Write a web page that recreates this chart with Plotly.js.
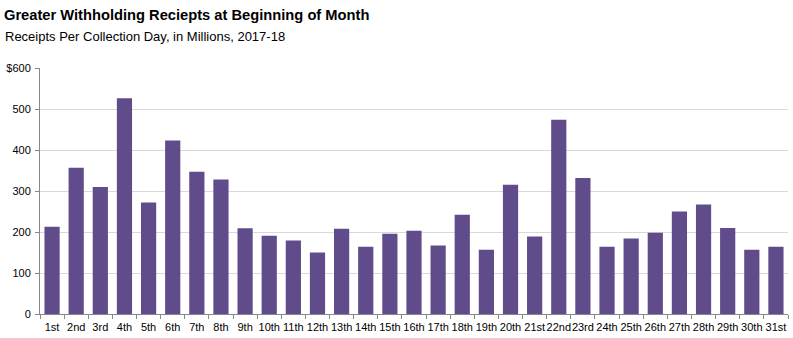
<!DOCTYPE html>
<html>
<head>
<meta charset="utf-8">
<script src="https://cdn.plot.ly/plotly-3.0.1.min.js"></script>
<style>html,body{margin:0;padding:0;background:#fff;}#chart{width:793px;height:338px;}</style>
</head>
<body>
<div id="chart"></div>
<script>
const days = ["1st","2nd","3rd","4th","5th","6th","7th","8th","9th","10th","11th","12th","13th","14th","15th","16th","17th","18th","19th","20th","21st","22nd","23rd","24th","25th","26th","27th","28th","29th","30th","31st"];
const receipts = [213,357,310,526,272,423,347,328,209,191,179,150,208,164,196,203,167,242,157,315,189,474,332,164,184,198,250,267,210,157,164];
const yTickVals = [0,100,200,300,400,500,600];
const yTickText = ["0","100","200","300","400","500","$600"];
const titleText = "Greater Withholding Reciepts at Beginning of Month";
const subtitleText = "Receipts Per Collection Day, in Millions, 2017-18";

const font = "Liberation Sans, Arial, sans-serif";
Plotly.newPlot("chart", [{
  type: "bar",
  x: days,
  y: receipts,
  marker: {color: "#604c8b"},
  hoverinfo: "x+y"
}], {
  width: 793, height: 338,
  margin: {l: 40, r: 5, t: 68, b: 24},
  paper_bgcolor: "#fff", plot_bgcolor: "#fff",
  bargap: 0.37,
  font: {family: font, size: 11, color: "#000"},
  title: {text: "<b>" + titleText + "</b>", x: 0.005, xanchor: "left", xref: "container",
          y: 0.955, yanchor: "middle", yref: "container", font: {family: font, size: 14.7, color: "#000"}},
  annotations: [{text: subtitleText, xref: "paper", yref: "paper", x: -0.0495, y: 1.0,
                 xanchor: "left", yanchor: "bottom", yshift: 22, showarrow: false,
                 font: {family: font, size: 13, color: "#000"}}],
  xaxis: {type: "category", showline: true, linecolor: "#888", linewidth: 1,
          ticks: "outside", tickson: "boundaries", ticklen: 4, tickcolor: "#888", tickangle: 0,
          ticklabelstandoff: 3,
          showgrid: false, tickfont: {family: font, size: 11, color: "#000"}, fixedrange: true},
  yaxis: {range: [0, 600], tickvals: yTickVals, ticktext: yTickText,
          showline: true, linecolor: "#888", linewidth: 1, ticks: "outside", ticklen: 4, tickcolor: "#888",
          ticklabelstandoff: 2,
          showgrid: true, gridcolor: "#d9d9d9", zeroline: false,
          tickfont: {family: font, size: 11, color: "#000"}, fixedrange: true},
  showlegend: false
}, {displayModeBar: false, staticPlot: true});
</script>
</body>
</html>
